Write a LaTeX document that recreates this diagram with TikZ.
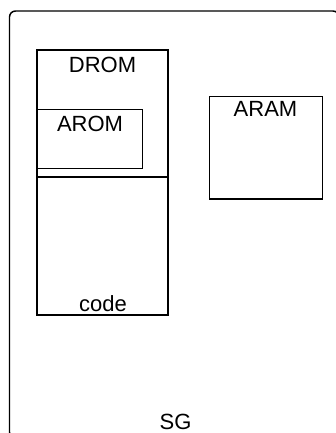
\documentclass[tikz,border=0pt]{standalone}
\usepackage{fontspec}
\setmainfont{Liberation Sans}
\begin{document}
\begin{tikzpicture}[x=0.75pt,y=-0.75pt,
  box/.style={draw=black, line width=1.1pt, inner sep=0pt, outer sep=0pt, anchor=north west},
  lbl/.style={anchor=base, inner sep=0pt, font=\fontsize{16.5}{20}\selectfont}]
\useasboundingbox (0,0) rectangle (336,433);
\clip (0,0) rectangle (336,433);
\draw[line width=1.1pt, rounded corners=4.5pt] (9.5,11) rectangle (339,438);
\node[box, minimum width=98.25pt, minimum height=103.5pt] (code) at (37,177) {};
\node[box, line width=1.5pt, minimum width=98.25pt, minimum height=95.25pt] (drom) at (37,50) {};
\node[box, minimum width=79.3pt, minimum height=44.25pt] (arom) at (37,109.3) {};
\node[box, minimum width=85pt, minimum height=76.7pt] (aram) at (209.3,96.7) {};
\node[lbl] (tdrom) at (102.5,72) {DROM};
\node[lbl] (tarom) at (90,131) {AROM};
\node[lbl] (taram) at (265.5,116.7) {ARAM};
\node[lbl] (tcode) at (103,311) {code};
\node[lbl] (tsg) at (175.5,429.5) {SG};
\end{tikzpicture}
\end{document}
